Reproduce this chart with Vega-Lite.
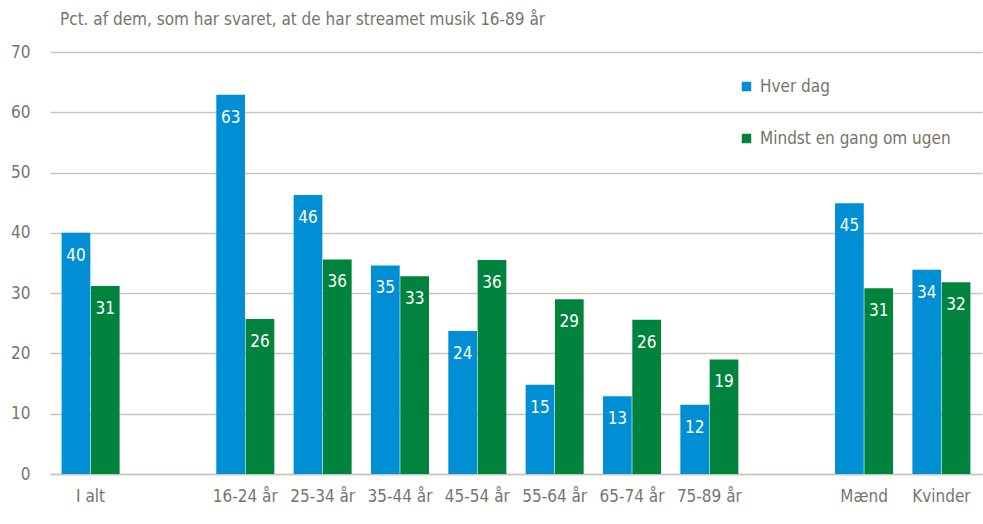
{
  "$schema": "https://vega.github.io/schema/vega-lite/v6.json",
  "autosize": "none",
  "width": 932,
  "height": 422,
  "padding": {"left": 50, "top": 52, "right": 1, "bottom": 50},
  "background": "white",
  "config": {
    "font": "'Liberation Sans Narrow', 'DejaVu Sans Condensed', Roboto",
    "view": {"stroke": null}
  },
  "title": {
    "text": "Pct. af  dem, som har svaret, at de har streamet musik 16-89 år",
    "anchor": "start",
    "frame": "group",
    "orient": "top",
    "offset": 14,
    "dx": 10,
    "fontSize": 17,
    "fontWeight": "normal",
    "color": "#77756a"
  },
  "data": {
    "values": [
      {"kat": "I alt", "serie": "Hver dag", "v": 40.0, "label": "40"},
      {"kat": "16-24 år", "serie": "Hver dag", "v": 62.9, "label": "63"},
      {"kat": "25-34 år", "serie": "Hver dag", "v": 46.3, "label": "46"},
      {"kat": "35-44 år", "serie": "Hver dag", "v": 34.6, "label": "35"},
      {"kat": "45-54 år", "serie": "Hver dag", "v": 23.7, "label": "24"},
      {"kat": "55-64 år", "serie": "Hver dag", "v": 14.8, "label": "15"},
      {"kat": "65-74 år", "serie": "Hver dag", "v": 12.9, "label": "13"},
      {"kat": "75-89 år", "serie": "Hver dag", "v": 11.5, "label": "12"},
      {"kat": "Mænd", "serie": "Hver dag", "v": 44.9, "label": "45"},
      {"kat": "Kvinder", "serie": "Hver dag", "v": 33.9, "label": "34"},
      {"kat": "I alt", "serie": "Mindst en gang om ugen", "v": 31.2, "label": "31"},
      {"kat": "16-24 år", "serie": "Mindst en gang om ugen", "v": 25.7, "label": "26"},
      {"kat": "25-34 år", "serie": "Mindst en gang om ugen", "v": 35.6, "label": "36"},
      {"kat": "35-44 år", "serie": "Mindst en gang om ugen", "v": 32.8, "label": "33"},
      {"kat": "45-54 år", "serie": "Mindst en gang om ugen", "v": 35.5, "label": "36"},
      {"kat": "55-64 år", "serie": "Mindst en gang om ugen", "v": 29.0, "label": "29"},
      {"kat": "65-74 år", "serie": "Mindst en gang om ugen", "v": 25.6, "label": "26"},
      {"kat": "75-89 år", "serie": "Mindst en gang om ugen", "v": 19.0, "label": "19"},
      {"kat": "Mænd", "serie": "Mindst en gang om ugen", "v": 30.8, "label": "31"},
      {"kat": "Kvinder", "serie": "Mindst en gang om ugen", "v": 31.8, "label": "32"}
    ]
  },
  "encoding": {
    "x": {
      "field": "kat",
      "type": "nominal",
      "sort": null,
      "scale": {
        "domain": ["I alt", " ", "16-24 år", "25-34 år", "35-44 år", "45-54 år", "55-64 år", "65-74 år", "75-89 år", "  ", "Mænd", "Kvinder"],
        "paddingInner": 0.25,
        "paddingOuter": 0.15
      },
      "axis": {
        "title": null,
        "labelAngle": 0,
        "labelFontSize": 17,
        "labelColor": "#77756a",
        "labelPadding": 14,
        "ticks": false,
        "domainColor": "#c9c7bd",
        "domainWidth": 1.5,
        "grid": false
      }
    },
    "xOffset": {
      "field": "serie",
      "type": "nominal",
      "scale": {"paddingInner": 0.02}
    },
    "y": {
      "field": "v",
      "type": "quantitative",
      "scale": {"domain": [0, 70], "nice": false},
      "axis": {
        "title": null,
        "values": [0, 10, 20, 30, 40, 50, 60, 70],
        "labelFontSize": 17,
        "labelColor": "#77756a",
        "labelPadding": 20,
        "ticks": false,
        "domain": false,
        "gridColor": "#c9c7bd",
        "gridWidth": 1.5
      }
    }
  },
  "layer": [
    {
      "mark": {"type": "bar"},
      "encoding": {
        "color": {
          "field": "serie",
          "type": "nominal",
          "scale": {"domain": ["Hver dag", "Mindst en gang om ugen"], "range": ["#008fd5", "#00843d"]},
          "legend": {
            "title": null,
            "orient": "none",
            "legendX": 688,
            "legendY": 26,
            "symbolType": "square",
            "symbolSize": 90,
            "symbolStrokeWidth": 0,
            "labelFontSize": 17,
            "labelColor": "#77756a",
            "labelLimit": 400,
            "rowPadding": 34,
            "labelOffset": 5
          }
        }
      }
    },
    {
      "mark": {"type": "text", "color": "white", "fontSize": 17, "baseline": "middle", "dy": 23},
      "encoding": {
        "text": {"field": "label"}
      }
    }
  ]
}
